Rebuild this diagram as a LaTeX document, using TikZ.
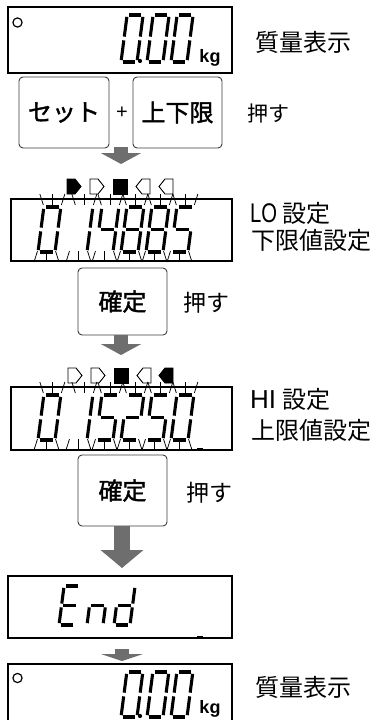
\documentclass[tikz,border=0pt]{standalone}
\usepackage{fontspec}
\usepackage{graphicx}
\setmainfont{Liberation Sans}
\newfontfamily\jp{Noto Sans CJK JP}
\newfontfamily\jpb[FakeBold=1.6]{Noto Sans CJK JP}
\usetikzlibrary{arrows.meta}
\definecolor{arrowgray}{HTML}{6E6E6E}
\definecolor{btngray}{HTML}{3C3C3C}
\tikzset{
 dispbox/.style={draw=black, line width=1.1pt, rectangle, inner sep=0pt},
 keybox/.style={draw=btngray, line width=0.9pt, rounded corners=4pt, rectangle, inner sep=0pt, font=\jpb\fontsize{24}{24}\selectfont},
 lbl/.style={inner sep=0pt, font=\jp\fontsize{24}{24}\selectfont},
 seg/.style={line width=3.1pt, shorten <=1.9pt, shorten >=1.9pt, line cap=butt},
 ray/.style={line width=0.75pt},
 bigarrow/.style={draw=arrowgray, line width=14pt, -{Triangle[width=40pt,length=11pt]}},
 ind/.style={draw=black, line width=0.9pt, line join=miter},
 lamp/.style={draw=black, line width=1.2pt},
}
\def\DS{0.13}
\newcommand\sgline[4]{\draw[seg] ({#1*\DW+\DS*#2*\DH},{-#2*\DH}) -- ({#3*\DW+\DS*#4*\DH},{-#4*\DH});}
\newcommand\sga{\sgline{0}{1}{1}{1}}
\newcommand\sgb{\sgline{1}{1}{1}{0.5}}
\newcommand\sgc{\sgline{1}{0.5}{1}{0}}
\newcommand\sgd{\sgline{0}{0}{1}{0}}
\newcommand\sge{\sgline{0}{0.5}{0}{0}}
\newcommand\sgf{\sgline{0}{1}{0}{0.5}}
\newcommand\sgg{\sgline{0}{0.5}{1}{0.5}}
\newcommand\sevseg[5]{\begin{scope}[shift={(#1,#2)}]\def\DH{#3}\def\DW{#4}\foreach \segname in {#5}{\csname sg\segname\endcsname}\end{scope}}
\newcommand\rays[4]{%
 \begin{scope}[shift={(#1,#2)}]
 \pgfmathsetmacro\tl{\DS*#3}
 \draw[ray] ({\tl-4},{-#3-13}) -- ({\tl-0.5},{-#3-2});
 \draw[ray] ({\tl+#4/2},{-#3-13}) -- ({\tl+#4/2},{-#3-2});
 \draw[ray] ({\tl+#4+4},{-#3-13}) -- ({\tl+#4+0.5},{-#3-2});
 \draw[ray] (-4,10) -- (-0.5,-1);
 \draw[ray] ({#4/2},10) -- ({#4/2},-1);
 \draw[ray] ({#4+4},10) -- ({#4+0.5},-1);
 \end{scope}}
\newcommand\pentR[3]{\draw[ind,#3] (#1,#2) -- ++(8,0) -- ++(6,7.5) -- ++(-6,7.5) -- ++(-8,0) -- cycle;}
\newcommand\pentL[3]{\draw[ind,#3] ({#1+14},#2) -- ++(-8,0) -- ++(-6,7.5) -- ++(6,7.5) -- ++(8,0) -- cycle;}
\newcommand\sqind[3]{\draw[ind,#3] (#1,#2) rectangle ++(14,15);}
\begin{document}
\begin{tikzpicture}[x=1pt,y=-1pt]
\useasboundingbox (0,0) rectangle (381,720);
\clip (0,0) rectangle (381,720);
% display 1
\node[dispbox, minimum width=224pt, minimum height=66pt] (disp1) at (120,40) {};
\draw[lamp] (17.5,22.5) circle[radius=4.6pt];
\sevseg{121}{62}{47}{16}{a,b,c,d,e,f}
\sevseg{147}{62}{47}{16}{a,b,c,d,e,f}
\sevseg{171}{62}{47}{16}{a,b,c,d,e,f}
\fill (140,61) circle[radius=2.1pt];
\node[inner sep=0pt, anchor=base, font=\bfseries\fontsize{18}{18}\selectfont] (kg1) at (210,62) {kg};
\node[lbl] (mass1) at (303,42) {質量表示};
% keys
\node[keybox, minimum width=90pt, minimum height=71pt] (kset) at (64,112.5) {セット};
\node[inner sep=0pt, font=\fontsize{20}{20}\selectfont] (plus) at (122,113) {+};
\node[keybox, minimum width=89pt, minimum height=71pt] (klim) at (177.5,112.5) {上下限};
\node[lbl, font=\jp\fontsize{21}{21}\selectfont] (push1) at (268,114) {押す};
\coordinate (a1s) at (121,147);
\coordinate (a1e) at (121,164);
\draw[bigarrow] (a1s) -- (a1e);
% LO display
\pentR{67}{179}{fill=black}
\pentR{90}{179}{fill=white}
\sqind{113}{179}{fill=black}
\pentL{136}{179}{fill=white}
\pentL{159}{179}{fill=white}
\node[dispbox, minimum width=221pt, minimum height=62pt] (disp2) at (121.5,230) {};
\sevseg{38}{252}{45}{17}{a,b,c,d,e,f}
\sevseg{70}{252}{45}{17}{b,c}
\sevseg{96}{252}{45}{17}{b,c,f,g}
\sevseg{121}{252}{45}{17}{a,b,c,d,e,f,g}
\sevseg{146}{252}{45}{17}{a,b,c,d,e,f,g}
\sevseg{171}{252}{45}{17}{a,c,d,f,g}
\foreach \cx in {38,70,96,121,146,171}{\rays{\cx}{252}{45}{17}}
\node[lbl, anchor=west] (lo1) at (250,213) {\makebox[32pt][l]{\rmfamily\fontsize{27}{27}\selectfont\scalebox{0.75}[1]{LO}}設定};
\node[lbl, anchor=west] (lo2) at (251,240) {下限値設定};
% confirm 1
\node[keybox, minimum width=89pt, minimum height=67pt] (ok1) at (122.5,301.5) {確定};
\node[lbl, font=\jp\fontsize{23}{23}\selectfont] (push2) at (206,303) {押す};
\coordinate (a2s) at (121,335);
\coordinate (a2e) at (121,355);
\draw[bigarrow] (a2s) -- (a2e);
% HI display
\pentR{68}{368}{fill=white}
\pentR{91}{368}{fill=white}
\sqind{114}{368}{fill=black}
\pentL{137}{368}{fill=white}
\pentL{159}{368}{fill=black}
\node[dispbox, minimum width=221pt, minimum height=63pt] (disp3) at (121.5,418.5) {};
\sevseg{38}{440}{45}{17}{a,b,c,d,e,f}
\sevseg{70}{440}{45}{17}{b,c}
\sevseg{96}{440}{45}{17}{a,c,d,f,g}
\sevseg{121}{440}{45}{17}{a,b,d,e,g}
\sevseg{146}{440}{45}{17}{a,c,d,f,g}
\sevseg{171}{440}{45}{17}{a,b,c,d,e,f}
\foreach \cx in {38,70,96,121,146,171}{\rays{\cx}{440}{45}{17}}
\draw[line width=2pt] (197,448.5) -- (203,448.5);
\node[lbl, anchor=west] (hi1) at (250,399) {\makebox[32pt][l]{\rmfamily\fontsize{26}{26}\selectfont HI}設定};
\node[lbl, anchor=west] (hi2) at (251,430) {上限値設定};
% confirm 2
\node[keybox, minimum width=89pt, minimum height=71pt] (ok2) at (122.5,490.5) {確定};
\node[lbl, font=\jp\fontsize{23}{23}\selectfont] (push3) at (209,493) {押す};
\coordinate (a3e) at (122,568);
\draw[bigarrow, line width=16pt, -{Triangle[width=42pt,length=18pt]}] (ok2.south -| a3e) -- (a3e);
% End display
\node[dispbox, minimum width=224pt, minimum height=62pt] (disp4) at (120,607) {};
\sevseg{59}{625}{39}{16}{a,d,e,f,g}
\sevseg{87}{625}{39}{16}{c,e,g}
\sevseg{114}{625}{39}{16}{b,c,d,e,g}
\draw[line width=2pt] (197,636.5) -- (203,636.5);
\coordinate (a4s) at (122,649);
\coordinate (a4e) at (122,661);
\draw[bigarrow, -{Triangle[width=42pt,length=7pt]}] (a4s) -- (a4e);
% display 5
\node[dispbox, minimum width=224pt, minimum height=66pt] (disp5) at (120,697) {};
\draw[lamp] (17.5,678) circle[radius=4.6pt];
\sevseg{121}{717}{45}{16}{a,b,c,d,e,f}
\sevseg{147}{717}{45}{16}{a,b,c,d,e,f}
\sevseg{171}{717}{45}{16}{a,b,c,d,e,f}
\fill (140,716) circle[radius=2.1pt];
\node[inner sep=0pt, anchor=base, font=\bfseries\fontsize{18}{18}\selectfont] (kg5) at (210,713) {kg};
\node[lbl] (mass5) at (303,687) {質量表示};
\end{tikzpicture}
\end{document}
